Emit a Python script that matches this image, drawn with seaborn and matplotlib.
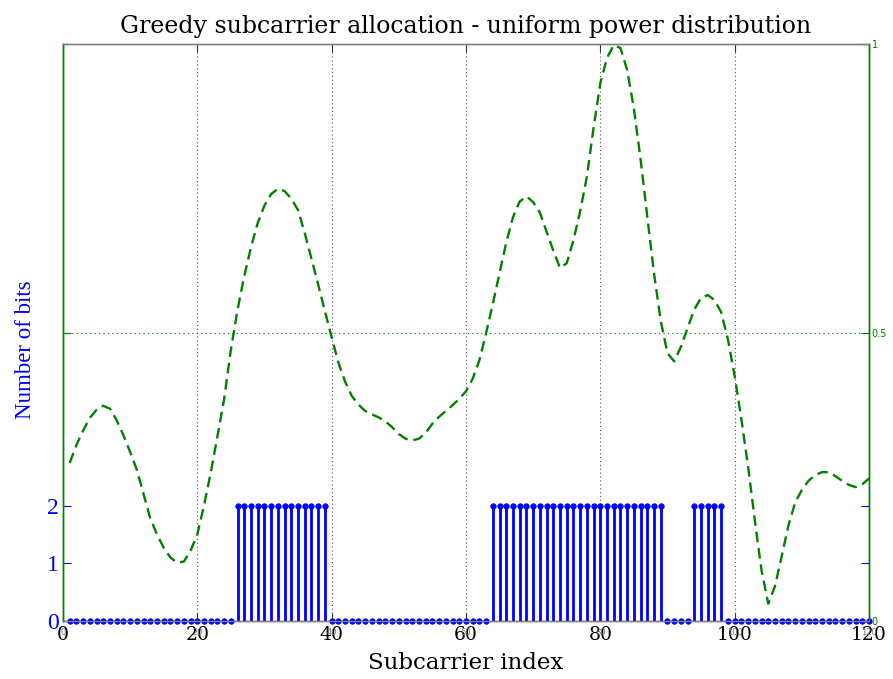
import matplotlib
matplotlib.use("Agg")
import matplotlib.pyplot as plt
import pandas as pd
import seaborn as sns

# Subcarrier indices 1..120
subcarriers = list(range(1, 121))

# Bits allocated to each subcarrier by the greedy algorithm
bits = [
    0, 0, 0, 0, 0, 0, 0, 0, 0, 0, 0, 0, 0, 0, 0, 0, 0, 0, 0, 0,
    0, 0, 0, 0, 0, 2, 2, 2, 2, 2, 2, 2, 2, 2, 2, 2, 2, 2, 2, 0,
    0, 0, 0, 0, 0, 0, 0, 0, 0, 0, 0, 0, 0, 0, 0, 0, 0, 0, 0, 0,
    0, 0, 0, 2, 2, 2, 2, 2, 2, 2, 2, 2, 2, 2, 2, 2, 2, 2, 2, 2,
    2, 2, 2, 2, 2, 2, 2, 2, 2, 0, 0, 0, 0, 2, 2, 2, 2, 2, 0, 0,
    0, 0, 0, 0, 0, 0, 0, 0, 0, 0, 0, 0, 0, 0, 0, 0, 0, 0, 0, 0,
]

# Normalised channel gain per subcarrier
gain = [
    0.274, 0.305, 0.330, 0.352, 0.366, 0.373, 0.368, 0.348, 0.322, 0.293,
    0.262, 0.220, 0.178, 0.150, 0.127, 0.110, 0.101, 0.103, 0.122, 0.150,
    0.200, 0.257, 0.320, 0.385, 0.470, 0.540, 0.598, 0.648, 0.690, 0.720,
    0.740, 0.749, 0.745, 0.732, 0.712, 0.672, 0.628, 0.583, 0.537, 0.492,
    0.448, 0.415, 0.390, 0.375, 0.364, 0.358, 0.353, 0.346, 0.336, 0.324,
    0.316, 0.313, 0.316, 0.326, 0.342, 0.354, 0.364, 0.374, 0.385, 0.398,
    0.420, 0.452, 0.499, 0.550, 0.603, 0.656, 0.700, 0.727, 0.736, 0.726,
    0.708, 0.675, 0.642, 0.612, 0.620, 0.660, 0.710, 0.770, 0.855, 0.932,
    0.976, 0.998, 0.993, 0.955, 0.888, 0.800, 0.700, 0.602, 0.520, 0.464,
    0.450, 0.475, 0.508, 0.540, 0.560, 0.565, 0.556, 0.535, 0.488, 0.425,
    0.350, 0.268, 0.175, 0.088, 0.030, 0.060, 0.112, 0.165, 0.205, 0.227,
    0.243, 0.253, 0.258, 0.258, 0.251, 0.243, 0.236, 0.232, 0.237, 0.247,
]

x_ticks = [0, 20, 40, 60, 80, 100, 120]
bit_ticks = [0, 1, 2]
gain_ticks = [0, 0.5, 1]
gain_tick_labels = ["0", "0.5", "1"]

df = pd.DataFrame({"subcarrier": subcarriers, "bits": bits, "gain": gain})

sns.set_style("white")
plt.rcParams["text.color"] = "black"
plt.rcParams["axes.labelcolor"] = "black"
wide_serif = ["DejaVu Serif"]
times = ["Liberation Serif", "DejaVu Serif"]

fig = plt.figure(figsize=(8.93, 6.79), dpi=100)
ax = fig.add_axes([0.0705, 0.0854, 0.9026, 0.8498])
ax2 = ax.twinx()

BLUE = "#0000ff"
GREEN = "#008000"
GREY = "#808080"

# Stem plot of bit allocation
ax.vlines(df["subcarrier"], 0, df["bits"], color=BLUE, lw=2.0, zorder=3)
sns.scatterplot(data=df, x="subcarrier", y="bits", ax=ax, color=BLUE,
                edgecolor=BLUE, s=16, marker="o", linewidth=0.5,
                clip_on=False, zorder=4, legend=False)

ax.set_xlim(0, 120)
ax.set_ylim(0, 10)
ax.set_xticks(x_ticks)
ax.set_xticklabels([str(t) for t in x_ticks], family=wide_serif, fontsize=13.5)
ax.set_yticks(bit_ticks)
ax.set_yticklabels([str(t) for t in bit_ticks], family=times, fontsize=17)
ax.tick_params(axis="x", direction="in", length=6, color="#333333",
               top=True, bottom=True, pad=3.5, labelcolor="black")
ax.tick_params(axis="y", direction="in", length=6, color=BLUE,
               left=True, right=True, labelcolor=BLUE, pad=3)
ax.grid(axis="x", linestyle=(0, (1, 2.5)), color="#555555", lw=0.8)
ax.grid(axis="y", visible=False)
ax.set_xlabel("Subcarrier index", family=wide_serif, fontsize=16.5,
              labelpad=6, color="black")
ax.set_ylabel("Number of bits", family=times, fontsize=16.5, color=BLUE)
ax.yaxis.set_label_coords(-0.033, 0.47)
ax.set_title("Greedy subcarrier allocation - uniform power distribution",
             family=wide_serif, fontsize=17, pad=8, color="black")

# Channel gain on the secondary axis
sns.lineplot(data=df, x="subcarrier", y="gain", ax=ax2, color=GREEN, lw=1.7)
ax2.lines[0].set_dashes([4.5, 2.5])
ax2.set_ylim(0, 1)
ax2.set_xlim(0, 120)
ax2.set_ylabel("")
ax2.set_xlabel("")
ax2.set_yticks(gain_ticks)
ax2.set_yticklabels(gain_tick_labels, fontsize=7)
ax2.tick_params(axis="y", direction="in", length=6, color=GREEN,
                left=True, right=True, labelleft=False, labelright=True,
                labelcolor=GREEN, pad=2)
ax2.grid(axis="y", linestyle=(0, (1, 3)), color=GREEN, lw=0.8)
ax2.grid(axis="x", visible=False)
ax2.xaxis.set_visible(True)
ax2.set_xticks(x_ticks)
ax2.set_xticklabels([str(t) for t in x_ticks], fontsize=6, color="#777777")
ax2.tick_params(axis="x", length=0, pad=5, bottom=True, labelbottom=True,
                top=False, labeltop=False)

for a in (ax, ax2):
    a.spines["left"].set_color(GREEN)
    a.spines["right"].set_color(GREEN)
    a.spines["top"].set_color(GREY)
    a.spines["bottom"].set_color(GREY)
    for s in a.spines.values():
        s.set_linewidth(1.0)

fig.savefig("out.png", dpi=100)
